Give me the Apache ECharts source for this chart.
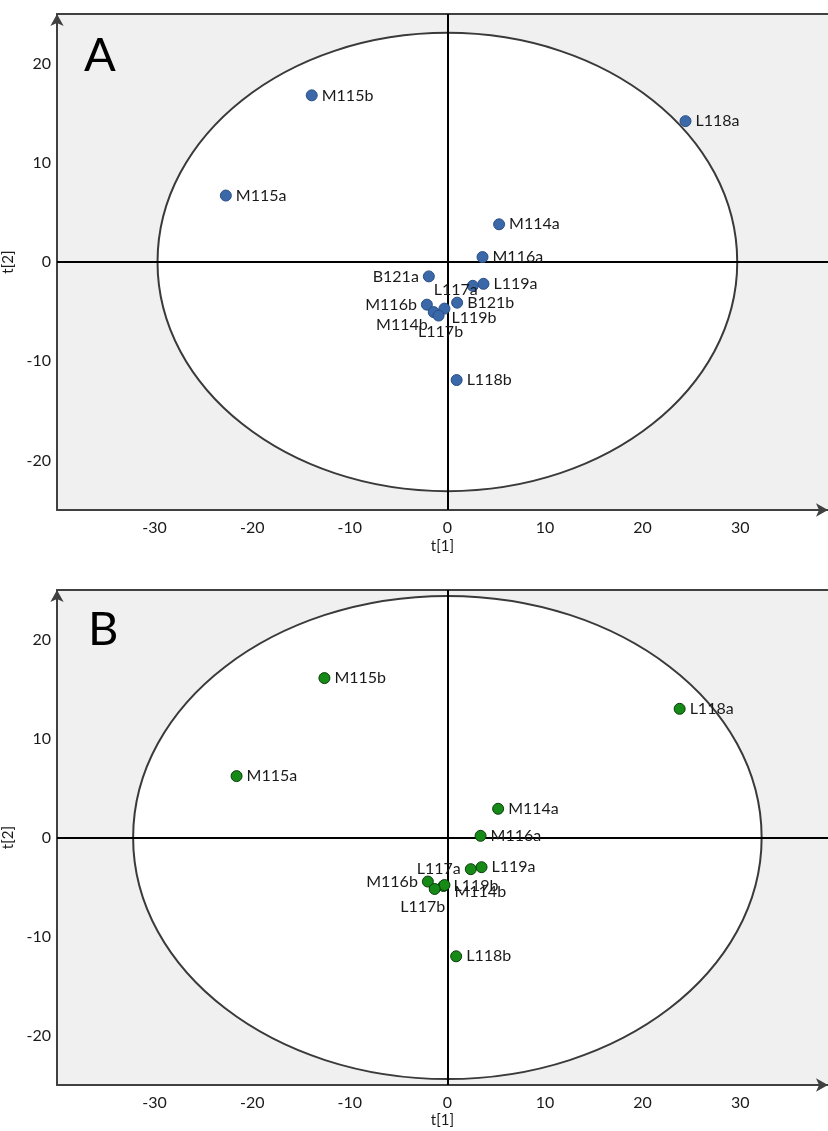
<!DOCTYPE html>
<html>
<head>
<meta charset="utf-8">
<script src="https://cdn.jsdelivr.net/npm/echarts@6/dist/echarts.min.js"></script>
<style>
html,body{margin:0;padding:0;background:#fff;}
#chart{width:828px;height:1131px;}
</style>
</head>
<body>
<div id="chart"></div>
<script>
// ---- Data ----
const namesA = ['M115b','L118a','M115a','M114a','M116a','L119a','L117a','B121a','B121b','M116b','L119b','M114b','L117b','L118b'];
const t1A    = [-13.9, 24.4, -22.7, 5.3, 3.6, 3.7, 2.6, -1.9, 1.0, -2.1, -0.3, -1.4, -0.9, 0.95];
const t2A    = [16.8, 14.2, 6.7, 3.8, 0.5, -2.2, -2.4, -1.45, -4.1, -4.3, -4.7, -5.05, -5.4, -11.9];

const namesB = ['M115b','L118a','M115a','M114a','M116a','L119a','L117a','M116b','L119b','M114b','L117b','L118b'];
const t1B    = [-12.6, 23.8, -21.6, 5.2, 3.4, 3.5, 2.4, -2.0, -0.4, -0.3, -1.3, 0.9];
const t2B    = [16.1, 13.0, 6.2, 2.9, 0.17, -3.0, -3.2, -4.45, -4.9, -4.8, -5.2, -12.0];

// Hotelling T2 ellipse semi-axes [t1, t2]
const ellipseA = [29.7, 23.1];
const ellipseB = [32.2, 24.4];

const xTicks = [-30, -20, -10, 0, 10, 20, 30];
const yTicks = [-20, -10, 0, 10, 20];

// ---- Label placement overrides (style only) ----
const labelA = {
  'B121a': {position: 'left'},
  'L117a': {position: 'left', dx: 15, dy: 4},
  'M116b': {position: 'left'},
  'M114b': {position: 'left', dx: 4, dy: 13},
  'L117b': {position: 'bottom', dx: 2, dy: -2},
  'L119b': {position: 'right', dx: -3, dy: 9}
};
const labelB = {
  'L117a': {position: 'left'},
  'M116b': {position: 'left'},
  'M114b': {position: 'right', dx: 0, dy: 7},
  'L117b': {position: 'bottom', dx: -12, dy: 0}
};

const FONT = 'Lato, "Open Sans", sans-serif';
const AXIS_COLOR = '#404040';

function pts(names, xs, ys, overrides) {
  return names.map((n, i) => {
    const o = {name: n, value: [xs[i], ys[i]]};
    if (overrides[n]) o.label = {position: overrides[n].position};
    return o;
  });
}

function ellipseSeries(idx, axes) {
  return {
    type: 'custom',
    xAxisIndex: idx * 2, yAxisIndex: idx,
    coordinateSystem: 'cartesian2d',
    silent: true, z: 2, clip: true,
    data: [[0, 0]],
    renderItem: function (params, api) {
      const c = api.coord([0, 0]);
      const s = api.size([axes[0], axes[1]], [0, 0]);
      return {
        type: 'ellipse',
        shape: {cx: c[0], cy: c[1], rx: s[0], ry: s[1]},
        style: {fill: '#ffffff', stroke: '#3a3a3a', lineWidth: 2}
      };
    },
    markLine: {
      silent: true, symbol: 'none', animation: false,
      label: {show: false},
      lineStyle: {color: '#000', width: 2, type: 'solid'},
      data: [{xAxis: 0}, {yAxis: 0}]
    }
  };
}

function scatterSeries(idx, names, data, overrides, fill, stroke) {
  return {
    type: 'scatter',
    xAxisIndex: idx * 2, yAxisIndex: idx,
    z: 5,
    symbolSize: 11,
    itemStyle: {color: fill, borderColor: stroke, borderWidth: 1, opacity: 1},
    label: {
      show: true, position: 'right', distance: 4,
      formatter: '{b}', color: '#1a1a1a', fontSize: 16, fontFamily: FONT
    },
    labelLayout: function (p) {
      const o = overrides[names[p.dataIndex]];
      return o ? {dx: o.dx || 0, dy: o.dy || 0, hideOverlap: false} : {hideOverlap: false};
    },
    emphasis: {disabled: true},
    data: data
  };
}

function xAxes(gridIndex) {
  return [{
    type: 'value', gridIndex: gridIndex, position: 'bottom',
    min: -40, max: 39, interval: 10,
    name: 't[1]', nameLocation: 'middle', nameGap: gridIndex === 0 ? 29 : 28,
    nameTextStyle: {fontFamily: FONT, fontSize: 15, color: '#1a1a1a'},
    axisLine: {show: true, onZero: false, symbol: ['none', 'arrow'], symbolSize: [10, 12],
               lineStyle: {color: AXIS_COLOR, width: 2}},
    axisTick: {show: false},
    splitLine: {show: false},
    axisLabel: {
      margin: 10, fontFamily: FONT, fontSize: 16, color: '#1a1a1a',
      formatter: v => xTicks.indexOf(v) >= 0 ? String(v) : ''
    }
  }, {
    type: 'value', gridIndex: gridIndex, position: 'top',
    min: -40, max: 39,
    axisLine: {show: true, onZero: false, lineStyle: {color: AXIS_COLOR, width: 2}},
    axisTick: {show: false}, axisLabel: {show: false}, splitLine: {show: false}
  }];
}

function yAxis(gridIndex) {
  return {
    type: 'value', gridIndex: gridIndex,
    min: -25, max: 25, splitNumber: 5,
    name: 't[2]', nameLocation: 'middle', nameGap: 36, nameRotate: 90,
    nameTextStyle: {fontFamily: FONT, fontSize: 15, color: '#1a1a1a'},
    axisLine: {show: true, onZero: false, symbol: ['none', 'arrow'], symbolSize: [10, 12],
               lineStyle: {color: AXIS_COLOR, width: 2}},
    axisTick: {show: false},
    splitLine: {show: false},
    axisLabel: {
      margin: 6, fontFamily: FONT, fontSize: 16, color: '#1a1a1a',
      formatter: v => yTicks.indexOf(v) >= 0 ? String(v) : ''
    }
  };
}

const chart = echarts.init(document.getElementById('chart'), null, {renderer: 'canvas'});
chart.setOption({
  animation: false,
  backgroundColor: '#ffffff',
  grid: [
    {left: 57, top: 14, width: 771, height: 496, show: true, backgroundColor: '#f0f0f0', borderWidth: 0,
     containLabel: false, outerBoundsMode: 'none'},
    {left: 57, top: 590, width: 771, height: 495, show: true, backgroundColor: '#f0f0f0', borderWidth: 0,
     containLabel: false, outerBoundsMode: 'none'}
  ],
  xAxis: xAxes(0).concat(xAxes(1)),
  yAxis: [yAxis(0), yAxis(1)],
  graphic: [
    {type: 'text', left: 84, top: 32, z: 10,
     style: {text: 'A', fontSize: 47, fontFamily: FONT, fill: '#000'}},
    {type: 'text', left: 88, top: 606, z: 10,
     style: {text: 'B', fontSize: 47, fontFamily: FONT, fill: '#000'}}
  ],
  series: [
    ellipseSeries(0, ellipseA),
    scatterSeries(0, namesA, pts(namesA, t1A, t2A, labelA), labelA, '#3b68a8', '#2a4f85'),
    ellipseSeries(1, ellipseB),
    scatterSeries(1, namesB, pts(namesB, t1B, t2B, labelB), labelB, '#168a16', '#0b3d0b')
  ]
});
</script>
</body>
</html>
